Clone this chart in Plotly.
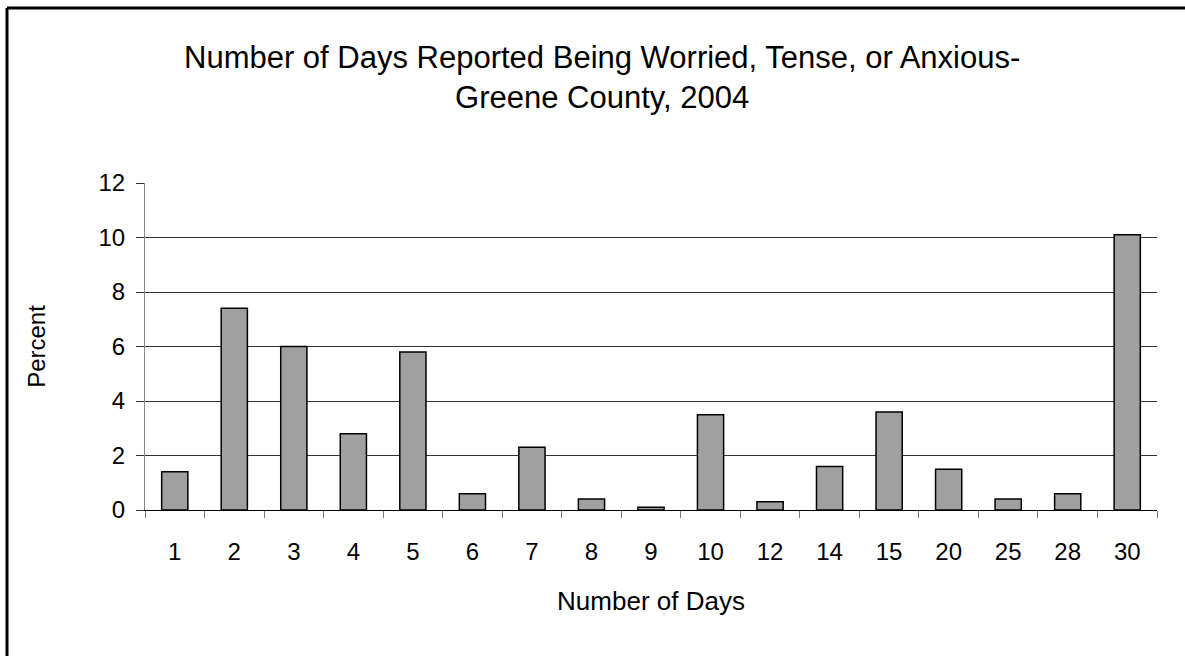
import plotly.graph_objects as go

days = ["1", "2", "3", "4", "5", "6", "7", "8", "9", "10", "12", "14", "15", "20", "25", "28", "30"]
percent = [1.4, 7.4, 6.0, 2.8, 5.8, 0.6, 2.3, 0.4, 0.1, 3.5, 0.3, 1.6, 3.6, 1.5, 0.4, 0.6, 10.1]
y_ticks = [0, 2, 4, 6, 8, 10, 12]

W, H = 1185, 656
L, R, T, B = 145, 28, 183, 146
pw, ph = W - L - R, H - T - B

def px_x(x):
    return (x - L) / pw

def px_y(y):
    return (H - B - y) / ph

FONT = "Liberation Sans, Arial, sans-serif"

fig = go.Figure(go.Bar(
    x=days, y=percent,
    marker=dict(color="#a0a0a0", line=dict(color="black", width=1.5)),
))

fig.update_layout(
    width=W, height=H,
    margin=dict(l=L, r=R, t=T, b=B),
    paper_bgcolor="white", plot_bgcolor="white",
    bargap=0.56,
    showlegend=False,
    font=dict(family=FONT, color="black", size=24),
    xaxis=dict(
        type="category", tickson="boundaries",
        ticks="outside", ticklen=7, tickcolor="#777", tickwidth=1,
        showline=True, linecolor="black", linewidth=1,
        showgrid=False, tickfont=dict(size=24),
        ticklabelstandoff=20,
        title=dict(text="Number of Days", font=dict(size=26), standoff=28),
    ),
    yaxis=dict(
        range=[0, 12], tickvals=y_ticks,
        ticks="outside", ticklen=8, tickcolor="#333", tickwidth=1,
        showline=True, linecolor="#888", linewidth=1,
        showgrid=True, gridcolor="#333", gridwidth=1,
        zeroline=False, tickfont=dict(size=24),
        ticklabelstandoff=6,
        title=dict(text="Percent", font=dict(size=24), standoff=46),
    ),
    annotations=[dict(
        text="Number of Days Reported Being Worried, Tense, or Anxious-<br>Greene County, 2004",
        xref="paper", yref="paper", x=px_x(602), y=px_y(77.5),
        xanchor="center", yanchor="middle", showarrow=False,
        font=dict(size=31, family=FONT, color="black"),
    )],
    shapes=[
        dict(type="line", xref="paper", yref="paper",
             x0=px_x(7), y0=px_y(8), x1=px_x(W + 5), y1=px_y(8),
             line=dict(color="black", width=3)),
        dict(type="line", xref="paper", yref="paper",
             x0=px_x(7), y0=px_y(8), x1=px_x(7), y1=px_y(H + 5),
             line=dict(color="black", width=3)),
    ],
)

fig.write_html("out.html", config={"displayModeBar": False},
               post_script="document.body.style.margin='0';")
